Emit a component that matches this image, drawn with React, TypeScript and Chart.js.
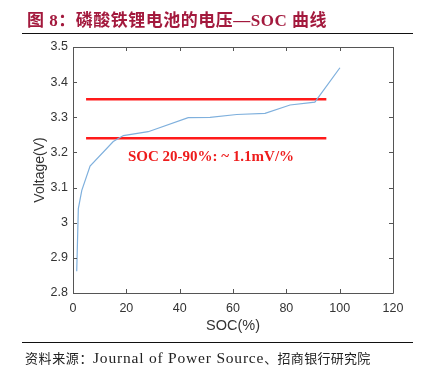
import React, { useEffect, useRef } from "react";
import { Chart, registerables } from "chart.js";

Chart.register(...registerables);

const titleText = "图 8：磷酸铁锂电池的电压—SOC 曲线";
const sourceLead = "资料来源：";
const sourceLatin = "Journal of Power Source";
const sourceTail = "、招商银行研究院";
const xAxisTitle = "SOC(%)";
const yAxisTitle = "Voltage(V)";
const noteText = "SOC 20-90%: ~ 1.1mV/%";

const socValues = [1.4, 2.0, 3.3, 6.4, 15.1, 18.9, 28.2, 43.2, 51.4, 61.4, 72.0, 81.4, 90.7, 100.1];
const voltageValues = [2.862, 3.04, 3.092, 3.161, 3.231, 3.248, 3.259, 3.299, 3.3, 3.308, 3.311, 3.335, 3.343, 3.441];

const upperLineSoc = [4.9, 95];
const upperLineVoltage = [3.351, 3.351];
const lowerLineSoc = [4.9, 95];
const lowerLineVoltage = [3.24, 3.24];

const notePosition = { soc: 20.6, voltage: 3.188 };

const xMin = 0, xMax = 120, xStep = 20;
const yMin = 2.8, yMax = 3.5, yStep = 0.1;

const boxPlugin = {
  id: "boxTicks",
  afterDatasetsDraw(chart: any) {
    const { ctx, chartArea, scales } = chart;
    const { left, right, top, bottom } = chartArea;
    ctx.save();
    ctx.strokeStyle = "#555";
    ctx.lineWidth = 1;
    ctx.beginPath();
    ctx.rect(Math.round(left) + 0.5, Math.round(top) + 0.5, Math.round(right - left), Math.round(bottom - top));
    ctx.stroke();
    const len = 4;
    ctx.beginPath();
    scales.x.ticks.forEach((t: any) => {
      const px = Math.round(scales.x.getPixelForValue(t.value)) + 0.5;
      ctx.moveTo(px, bottom);
      ctx.lineTo(px, bottom - len);
      ctx.moveTo(px, top);
      ctx.lineTo(px, top + len);
    });
    scales.y.ticks.forEach((t: any) => {
      const py = Math.round(scales.y.getPixelForValue(t.value)) + 0.5;
      ctx.moveTo(left, py);
      ctx.lineTo(left + len, py);
      ctx.moveTo(right, py);
      ctx.lineTo(right - len, py);
    });
    ctx.stroke();
    ctx.fillStyle = "#ee1c1c";
    ctx.font = "bold 15px 'Liberation Serif', 'Times New Roman', serif";
    ctx.textAlign = "left";
    ctx.textBaseline = "middle";
    ctx.fillText(
      noteText,
      scales.x.getPixelForValue(notePosition.soc),
      scales.y.getPixelForValue(notePosition.voltage)
    );
    ctx.restore();
  },
};

export default function App() {
  const canvasRef = useRef<HTMLCanvasElement | null>(null);

  useEffect(() => {
    if (!canvasRef.current) return;
    const toPoints = (xs: number[], ys: number[]) => xs.map((x, i) => ({ x, y: ys[i] }));
    const chart = new Chart(canvasRef.current, {
      type: "line",
      data: {
        datasets: [
          {
            label: "voltage",
            data: toPoints(socValues, voltageValues),
            borderColor: "#7fb0dd",
            borderWidth: 1.2,
            pointRadius: 0,
            tension: 0,
            fill: false,
          },
          {
            label: "upper",
            data: toPoints(upperLineSoc, upperLineVoltage),
            borderColor: "#ff1a1a",
            borderWidth: 2.5,
            pointRadius: 0,
            fill: false,
          },
          {
            label: "lower",
            data: toPoints(lowerLineSoc, lowerLineVoltage),
            borderColor: "#ff1a1a",
            borderWidth: 2.5,
            pointRadius: 0,
            fill: false,
          },
        ],
      },
      options: {
        animation: false,
        responsive: false,
        maintainAspectRatio: false,
        layout: { padding: { left: 0, right: 43, top: 47, bottom: 0 } },
        plugins: { legend: { display: false }, tooltip: { enabled: false }, title: { display: false } },
        scales: {
          x: {
            type: "linear",
            min: xMin,
            max: xMax,
            grid: { display: false, drawTicks: false },
            border: { display: false },
            ticks: {
              stepSize: xStep,
              padding: 8,
              color: "#333",
              font: { family: "'Liberation Sans', Arial, sans-serif", size: 12.5 },
              maxRotation: 0,
            },
            title: {
              display: true,
              text: xAxisTitle,
              color: "#333",
              font: { family: "'Liberation Sans', Arial, sans-serif", size: 14.5 },
              padding: { top: 0, bottom: 33 },
            },
            afterFit: (s: any) => {
              s.height = 75;
            },
          },
          y: {
            type: "linear",
            min: yMin,
            max: yMax,
            grid: { display: false, drawTicks: false },
            border: { display: false },
            ticks: {
              stepSize: yStep,
              padding: 5,
              color: "#333",
              font: { family: "'Liberation Sans', Arial, sans-serif", size: 12.5 },
              callback: (v: any) => String(Math.round(Number(v) * 10) / 10),
            },
            title: {
              display: true,
              text: yAxisTitle,
              color: "#333",
              font: { family: "'Liberation Sans', Arial, sans-serif", size: 14 },
              padding: { top: 32, bottom: 0 },
            },
            afterFit: (s: any) => {
              s.width = 73;
            },
          },
        },
      },
      plugins: [boxPlugin],
    });
    return () => chart.destroy();
  }, []);

  return (
    <div style={{ position: "absolute", left: 0, top: 0, width: 436, height: 368, background: "#fff", overflow: "hidden" }}>
      <canvas ref={canvasRef} width={436} height={368} style={{ position: "absolute", left: 0, top: 0, width: 436, height: 368 }} />
      <div
        style={{
          position: "absolute",
          left: 27,
          top: 11,
          fontFamily: "'Liberation Serif', 'Noto Sans CJK SC', serif",
          fontWeight: "bold",
          fontSize: 17,
          letterSpacing: "0.5px",
          lineHeight: "20px",
          color: "#a3193d",
          whiteSpace: "nowrap",
        }}
      >
        {titleText}
      </div>
      <div style={{ position: "absolute", left: 22, top: 33, width: 391, height: 0, borderTop: "1.5px solid #111" }} />
      <div style={{ position: "absolute", left: 22, top: 342, width: 391, height: 0, borderTop: "1.5px solid #111" }} />
      <div
        style={{
          position: "absolute",
          left: 25,
          top: 349,
          fontFamily: "'Liberation Serif', 'Noto Sans CJK SC', serif",
          fontSize: 13,
          lineHeight: "18px",
          color: "#222",
          whiteSpace: "nowrap",
        }}
      >
        <span style={{ letterSpacing: "0.6px" }}>{sourceLead}</span>
        <span style={{ fontSize: 15.5, letterSpacing: "0.8px" }}>{sourceLatin}</span>
        <span style={{ letterSpacing: "0.3px" }}>{sourceTail}</span>
      </div>
    </div>
  );
}
